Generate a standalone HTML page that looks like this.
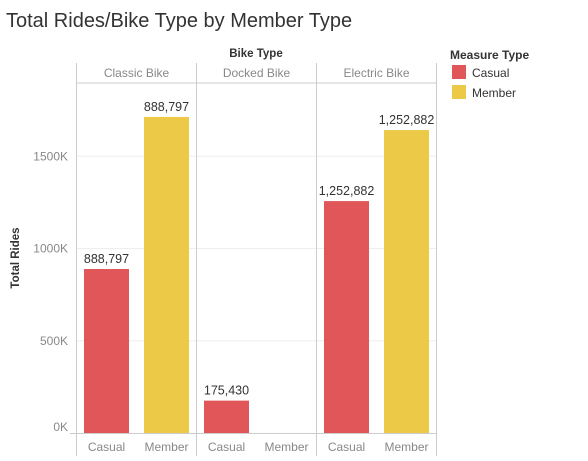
<!DOCTYPE html>
<html><head><meta charset="utf-8"><style>
body{margin:0;background:#fff;font-family:"Liberation Sans",sans-serif;}
svg text{font-family:"Liberation Sans",sans-serif;}
</style></head><body>
<svg width="588" height="456" viewBox="0 0 588 456">
<text x="6" y="27" font-size="20" fill="#333">Total Rides/Bike Type by Member Type</text>
<text x="256" y="57" font-size="11.5" font-weight="bold" fill="#333" text-anchor="middle">Bike Type</text>
<text x="19" y="258" font-size="11.5" font-weight="bold" fill="#333" text-anchor="middle" transform="rotate(-90 19 258)">Total Rides</text>
<text x="450" y="59" font-size="12" font-weight="bold" fill="#333">Measure Type</text>
<g><rect x="452" y="65" width="14" height="14" fill="#e15759"/><text x="472" y="77" font-size="12" fill="#333">Casual</text></g>
<g><rect x="452" y="85" width="14" height="14" fill="#edc948"/><text x="472" y="97" font-size="12" fill="#333">Member</text></g>
<g id="plot"></g>
</svg>
<script>
const panels=["Classic Bike","Docked Bike","Electric Bike"];
const members=["Casual","Member"];
const casualValues=[888797,175430,1257000];
const memberValues=[1713000,0,1642000];
const casualLabels=["888,797","175,430","1,252,882"];
const memberLabels=["888,797","","1,252,882"];
const ticks=[0,500000,1000000,1500000];
const tickLabels=["0K","500K","1000K","1500K"];
const colors=["#e15759","#edc948"];
const NS="http://www.w3.org/2000/svg";
const g=document.getElementById('plot');
const x0=76.5,pw=120,yTop=83,y0=433,yScale=184.5/1000000;
const y=v=>y0-v*yScale;
function mk(t,a,txt){const e=document.createElementNS(NS,t);for(const k in a)e.setAttribute(k,a[k]);if(txt!==undefined)e.textContent=txt;g.appendChild(e);return e;}
ticks.forEach((t,i)=>{
 if(t>0){const l=mk('line',{x1:x0,x2:x0+3*pw,y1:y(t),y2:y(t),stroke:'#eee','stroke-width':1});
 
 }
 const ty=t===0?y(t)-2:y(t)+4;
 const tx=mk('text',{x:68,y:ty,'font-size':12,fill:'#888','text-anchor':'end'},tickLabels[i]);
 
 
});
const vals=[casualValues,memberValues],labs=[casualLabels,memberLabels];
panels.forEach((p,pi)=>{
 const px=x0+pi*pw;
 const h=mk('text',{x:px+pw/2,y:77,'font-size':12,fill:'#888','text-anchor':'middle'},p);
 
 
 members.forEach((m,mi)=>{
  const bx=px+7.5+mi*60,v=vals[mi][pi];
  if(v>0){
   const r=mk('rect',{x:bx,y:y(v),width:45,height:y0-y(v),fill:colors[mi]});
   
   
   const t=mk('text',{x:bx+22.5,y:y(v)-6,'font-size':12.5,fill:'#333','text-anchor':'middle'},labs[mi][pi]);
   
   
  }
  const c=mk('text',{x:bx+22.5,y:451,'font-size':12,fill:'#888','text-anchor':'middle'},m);
  
  
 });
});
for(let i=0;i<=3;i++){const l=mk('line',{x1:x0+i*pw,x2:x0+i*pw,y1:63,y2:456,stroke:'#ccc'});
 
 }
const hl=mk('line',{x1:x0,x2:x0+3*pw,y1:yTop,y2:yTop,stroke:'#ccc'});


const bl=mk('line',{x1:70,x2:x0+3*pw,y1:y0+0.5,y2:y0+0.5,stroke:'#ccc'});


</script>
</body></html>
